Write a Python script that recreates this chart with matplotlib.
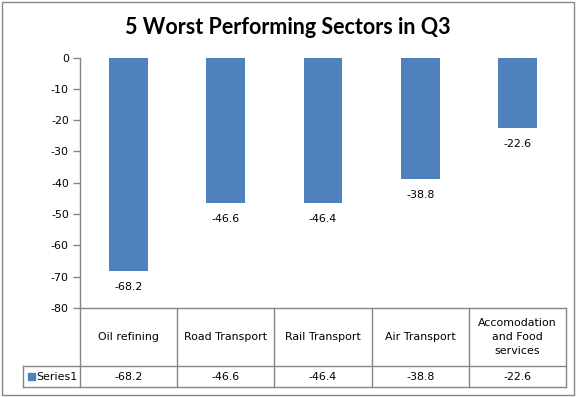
import matplotlib
matplotlib.use("Agg")
import matplotlib.pyplot as plt
from matplotlib.lines import Line2D
from matplotlib.patches import Rectangle
from matplotlib.transforms import blended_transform_factory

categories = ["Oil refining", "Road Transport", "Rail Transport", "Air Transport",
              "Accomodation\nand Food\nservices"]
values = [-68.2, -46.6, -46.4, -38.8, -22.6]
series_name = "Series1"
title = "5 Worst Performing Sectors in Q3"
yticks = [0, -10, -20, -30, -40, -50, -60, -70, -80]

W, H = 577, 397
fig = plt.figure(figsize=(W / 100, H / 100), dpi=100)
fig.patch.set_facecolor("white")

def fx(px):
    return px / W

def fy(py):
    return 1 - py / H

FS = 7.9
L, R, T, B = 80, 566, 57.5, 308
ax = fig.add_axes([fx(L), fy(B), fx(R) - fx(L), fy(T) - fy(B)])
bar_color = "#4F81BD"
grey = "#868686"
x = list(range(len(categories)))
ax.bar(x, values, width=0.4, color=bar_color)
ax.set_xlim(-0.5, len(categories) - 0.5)
ax.set_ylim(-80, 0)
ax.set_yticks(yticks)
ax.set_yticklabels([str(v) for v in yticks], fontsize=FS, family="DejaVu Sans")
ax.tick_params(axis="y", direction="out", length=5, color=grey, width=1, pad=3)
ax.set_xticks([])
for s in ["top", "right", "bottom"]:
    ax.spines[s].set_visible(False)
ax.spines["left"].set_color(grey)
ax.spines["left"].set_linewidth(1)

for xi, v in zip(x, values):
    ax.annotate(f"{v}", (xi, v), xytext=(0, -16), textcoords="offset pixels",
                ha="center", va="center", fontsize=FS, family="DejaVu Sans")

# data table
tr = blended_transform_factory(ax.transData, fig.transFigure)
row1, row2, row3 = B, 366, 387
leg_left = 23
lkw = dict(color=grey, lw=1, clip_on=False)
fig.add_artist(Line2D([fx(L), fx(R)], [fy(row1), fy(row1)], **lkw))
fig.add_artist(Line2D([fx(leg_left), fx(R)], [fy(row2), fy(row2)], **lkw))
fig.add_artist(Line2D([fx(leg_left), fx(R)], [fy(row3), fy(row3)], **lkw))
fig.add_artist(Line2D([fx(leg_left), fx(leg_left)], [fy(row2), fy(row3)], **lkw))
for b in [i - 0.5 for i in range(len(categories) + 1)]:
    fig.add_artist(Line2D([b, b], [fy(row1), fy(row3)], transform=tr, **lkw))
for xi, c, v in zip(x, categories, values):
    fig.text(xi, fy((row1 + row2) / 2), c, transform=tr, ha="center", va="center",
             fontsize=FS, family="DejaVu Sans", linespacing=1.55)
    fig.text(xi, fy((row2 + row3) / 2), f"{v}", transform=tr, ha="center", va="center",
             fontsize=FS, family="DejaVu Sans")
fig.add_artist(Rectangle((fx(28), fy(380)), fx(7), fy(373) - fy(380),
                         color=bar_color, transform=fig.transFigure))
fig.text(fx(36), fy((row2 + row3) / 2), series_name, ha="left", va="center",
         fontsize=FS, family="DejaVu Sans")

fig.text(fx(288), fy(27), title, ha="center", va="center", fontsize=15.5,
         fontweight="bold", family="Lato")

fig.add_artist(Rectangle((fx(2), fy(395)), fx(572), fy(2) - fy(395), fill=False,
                         edgecolor=grey, lw=1, transform=fig.transFigure))

fig.savefig("out.png", dpi=100)
